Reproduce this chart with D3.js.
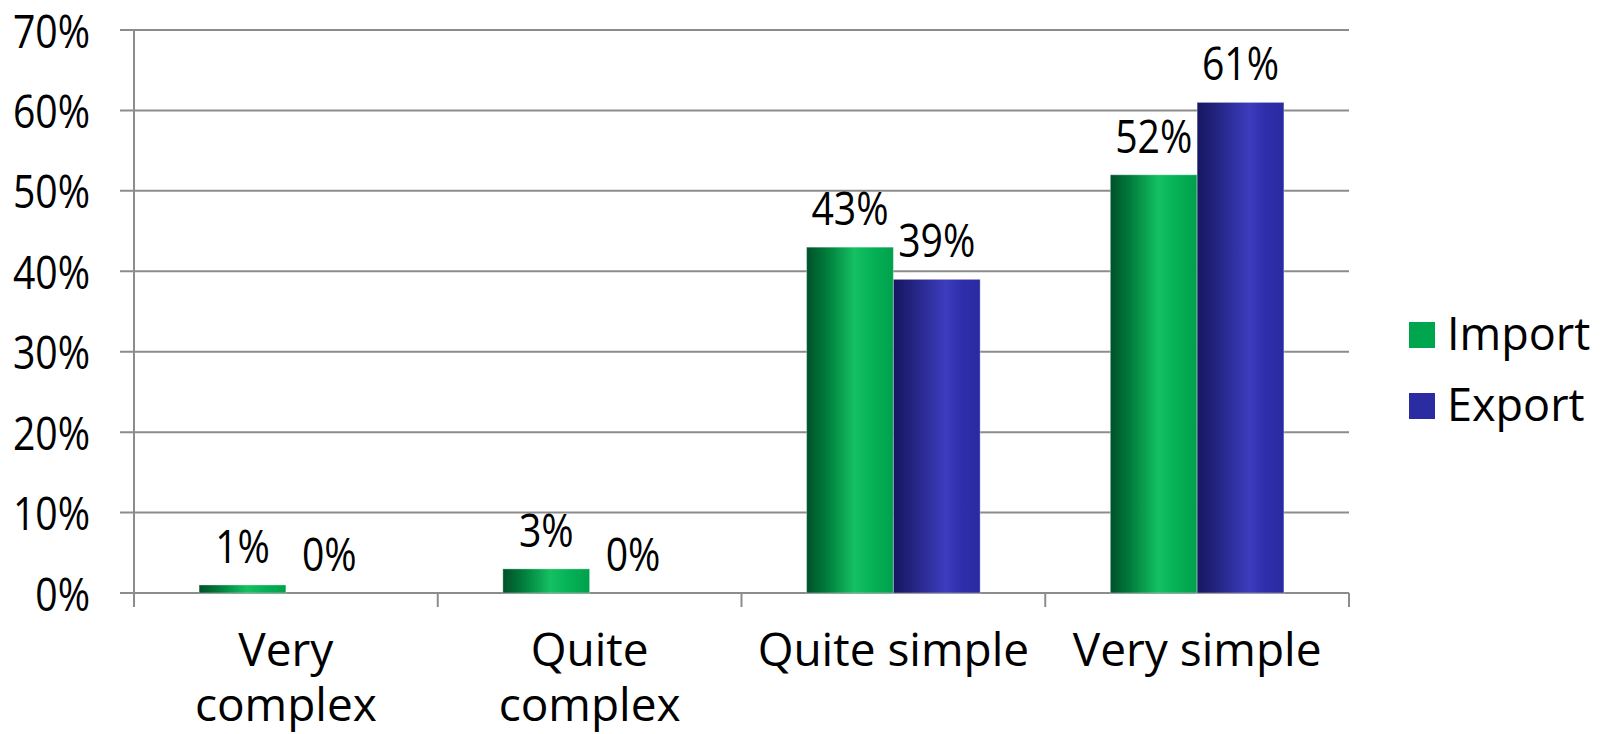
<!DOCTYPE html>
<html>
<head>
<meta charset="utf-8">
<script src="https://cdn.jsdelivr.net/npm/d3@7"></script>
<style>
  html, body { margin: 0; padding: 0; background: #fff; }
  svg { display: block; }
  text { font-family: "Open Sans", "Noto Sans", sans-serif; fill: #000; }
</style>
</head>
<body>
<svg id="chart" width="1602" height="734"></svg>
<script>
// Complexity ratings, share of respondents
const categories = ["Very\ncomplex", "Quite\ncomplex", "Quite simple", "Very simple"];
const seriesNames = ["Import", "Export"];
const importValues = [0.01, 0.03, 0.43, 0.52];
const exportValues = [0.00, 0.00, 0.39, 0.61];
const yTicks = [0, 0.1, 0.2, 0.3, 0.4, 0.5, 0.6, 0.7];

const svg = d3.select("#chart");
const plot = { left: 134, right: 1349, top: 30, bottom: 593 };

const x = d3.scaleBand().domain(d3.range(categories.length))
  .range([plot.left, plot.right]).paddingInner(0).paddingOuter(0);
const barW = x.bandwidth() / 3.5;
const y = d3.scaleLinear().domain([0, 0.7]).range([plot.bottom, plot.top]);

const fmt = d3.format(".0%");
const numSquash = 0.87; // narrower figures for percentage text

// Shaded fills for the bars
const defs = svg.append("defs");
function grad(id, stops) {
  const g = defs.append("linearGradient").attr("id", id)
    .attr("x1", "0%").attr("x2", "100%").attr("y1", "0%").attr("y2", "0%");
  stops.forEach(([o, c]) => g.append("stop").attr("offset", o).attr("stop-color", c));
}
grad("gImport", [["0%", "#00512a"], ["22%", "#007a3a"], ["55%", "#14c062"], ["75%", "#06b257"], ["100%", "#00a04c"]]);
grad("gExport", [["0%", "#161660"], ["22%", "#232380"], ["60%", "#3c3cbe"], ["80%", "#2e2eaa"], ["100%", "#2a2aa0"]]);
const fills = ["url(#gImport)", "url(#gExport)"];
const legendFills = ["#00a64e", "#2c2ca2"];

const gridColor = "#8c8c8c";

// Horizontal gridlines and left ticks
svg.append("g").selectAll("line").data(yTicks).join("line")
  .attr("x1", plot.left - 14).attr("x2", plot.right)
  .attr("y1", d => y(d)).attr("y2", d => y(d))
  .attr("stroke", gridColor).attr("stroke-width", 2);

// Vertical axis line
svg.append("line")
  .attr("x1", plot.left).attr("x2", plot.left)
  .attr("y1", plot.top).attr("y2", plot.bottom + 14)
  .attr("stroke", gridColor).attr("stroke-width", 2);

// Category boundary ticks under the baseline
const boundaries = d3.range(categories.length + 1).map(i => plot.left + i * x.step());
svg.append("g").selectAll("line").data(boundaries.slice(1)).join("line")
  .attr("x1", d => d).attr("x2", d => d)
  .attr("y1", plot.bottom).attr("y2", plot.bottom + 14)
  .attr("stroke", gridColor).attr("stroke-width", 2);

// Y tick labels
svg.append("g").selectAll("text").data(yTicks).join("text")
  .attr("transform", d => `translate(90,${y(d)}) scale(${numSquash},1)`)
  .attr("text-anchor", "end").attr("dominant-baseline", "central")
  .attr("font-size", 45)
  .text(d => fmt(d));

// Bars
const series = [importValues, exportValues];
series.forEach((vals, s) => {
  const g = svg.append("g");
  g.selectAll("rect").data(vals).join("rect")
    .attr("x", (d, i) => x(i) + x.bandwidth() / 2 - barW + s * barW)
    .attr("width", barW)
    .attr("y", d => y(d))
    .attr("height", d => y(0) - y(d))
    .attr("fill", fills[s])
    .attr("stroke", d => d > 0 ? "rgba(255,255,255,0.35)" : "none")
    .attr("stroke-width", 1);
  g.selectAll("text").data(vals).join("text")
    .attr("transform", (d, i) =>
      `translate(${x(i) + x.bandwidth() / 2 - barW / 2 + s * barW},${y(d) - 22}) scale(${numSquash},1)`)
    .attr("text-anchor", "middle")
    .attr("font-size", 45)
    .text(d => fmt(d));
});

// Category labels
const catG = svg.append("g");
categories.forEach((c, i) => {
  const t = catG.append("text")
    .attr("x", x(i) + x.bandwidth() / 2)
    .attr("y", 666)
    .attr("text-anchor", "middle")
    .attr("font-size", 46);
  c.split("\n").forEach((line, k) => {
    t.append("tspan").attr("x", x(i) + x.bandwidth() / 2)
      .attr("dy", k === 0 ? 0 : 55).text(line);
  });
});

// Legend
const legend = svg.append("g");
seriesNames.forEach((n, s) => {
  const yy = 335 + s * 71;
  legend.append("rect").attr("x", 1409).attr("y", yy - 13)
    .attr("width", 26).attr("height", 26).attr("fill", legendFills[s]);
  legend.append("text").attr("x", 1447).attr("y", yy + 15)
    .attr("font-size", 45).text(n);
});
</script>
</body>
</html>
